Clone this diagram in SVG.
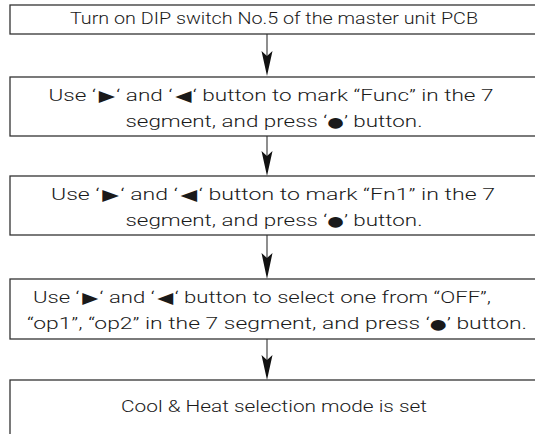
<svg xmlns="http://www.w3.org/2000/svg" width="535" height="434" viewBox="0 0 535 434">
<defs>
<style>
.box{fill:#fff;stroke:#333;stroke-width:1.3}
.t{font-family:Roboto,"Liberation Sans","DejaVu Sans",sans-serif;font-weight:300;font-size:16.5px;fill:#1a1a1a;text-anchor:middle}
.g{font-family:"DejaVu Sans",sans-serif;font-weight:normal;font-size:15.5px}
.d{font-family:"DejaVu Sans",sans-serif;font-weight:normal;font-size:14px}
.ln{stroke:#444;stroke-width:1.2;fill:none}
.ah{fill:#111}
</style>
</defs>
<g id="connectors">
<line class="ln" x1="267" y1="34" x2="267" y2="60"/><polygon class="ah" points="261.5,51 267,56 272.5,51 267,76"/>
<line class="ln" x1="267" y1="136" x2="267" y2="160"/><polygon class="ah" points="261.5,151 267,156 272.5,151 267,176"/>
<line class="ln" x1="267" y1="235" x2="267" y2="262"/><polygon class="ah" points="261.5,253 267,258 272.5,253 267,279"/>
<line class="ln" x1="267" y1="339" x2="267" y2="364"/><polygon class="ah" points="261.5,355 267,360 272.5,355 267,380"/>
</g>
<g id="n1"><rect class="box" x="10" y="5" width="530" height="29"/>
<text class="t" x="274" y="24" textLength="408" lengthAdjust="spacingAndGlyphs">Turn on DIP switch No.5 of the master unit PCB</text></g>
<g id="n2"><rect class="box" x="10" y="77" width="530" height="59"/>
<text class="t" x="271" y="101" textLength="445" lengthAdjust="spacingAndGlyphs">Use ‘<tspan class="g" dx="2">▶</tspan><tspan dx="1">‘</tspan> and ‘<tspan class="g" dx="2">◀</tspan><tspan dx="1">‘</tspan> button to mark “Func” in the 7</text>
<text class="t" x="274" y="127" textLength="297" lengthAdjust="spacingAndGlyphs">segment, and press ‘<tspan class="d">●</tspan>’ button.</text></g>
<g id="n3"><rect class="box" x="10" y="176" width="530" height="59"/>
<text class="t" x="273" y="200" textLength="444" lengthAdjust="spacingAndGlyphs">Use ‘<tspan class="g" dx="2">▶</tspan><tspan dx="1">‘</tspan> and ‘<tspan class="g" dx="2">◀</tspan><tspan dx="1">‘</tspan> button to mark “Fn1” in the 7</text>
<text class="t" x="274" y="226" textLength="297" lengthAdjust="spacingAndGlyphs">segment, and press ‘<tspan class="d">●</tspan>’ button.</text></g>
<g id="n4"><rect class="box" x="10" y="279" width="530" height="60"/>
<text class="t" x="262" y="303" textLength="458" lengthAdjust="spacingAndGlyphs">Use ‘<tspan class="g" dx="2">▶</tspan><tspan dx="1">‘</tspan> and ‘<tspan class="g" dx="2">◀</tspan><tspan dx="1">‘</tspan> button to select one from “OFF”,</text>
<text class="t" x="277" y="329" textLength="500" lengthAdjust="spacingAndGlyphs">“op1”, “op2” in the 7 segment, and press ‘<tspan class="d">●</tspan>’ button.</text></g>
<g id="n5"><rect class="box" x="10" y="380" width="530" height="70"/>
<text class="t" x="274" y="412" textLength="306" lengthAdjust="spacingAndGlyphs">Cool &amp; Heat selection mode is set</text></g>
</svg>
